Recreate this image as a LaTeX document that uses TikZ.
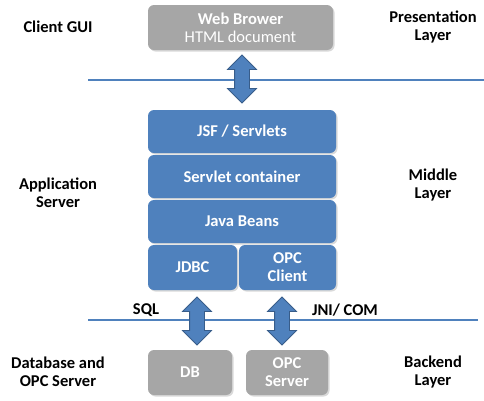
\documentclass[tikz,border=0pt]{standalone}
\usepackage{fontspec}
\setmainfont{Carlito}
\usetikzlibrary{shapes.arrows,shadows}
\definecolor{boxblue}{HTML}{4F81BD}
\definecolor{arrowedge}{HTML}{385D8A}
\definecolor{boxgray}{HTML}{A6A6A6}

\begin{document}
\begin{tikzpicture}
[x=1pt, y=1pt, every node/.style={inner sep=0pt, font=\fontsize{16.5}{18}\selectfont\bfseries},
 graybox/.style={rectangle, rounded corners=6pt, fill=boxgray, text=white, align=center,
   drop shadow={opacity=0.3, shadow xshift=1.5pt, shadow yshift=-1.5pt}},
 bluebox/.style={rectangle, rounded corners=6pt, fill=boxblue, text=white, align=center,
   drop shadow={opacity=0.3, shadow xshift=1.5pt, shadow yshift=-1.5pt}},
 layertext/.style={align=center, text=black},
 updown/.style={double arrow, shape border rotate=90, inner sep=7pt, minimum width=28pt,
   double arrow head indent=0pt, minimum height=48pt, fill=boxblue, draw=arrowedge, line width=0.8pt},
 sepline/.style={draw=boxblue, line width=1.3pt}]
\useasboundingbox (0,0) rectangle (484,-400);
% separator lines
\coordinate (topl) at (88, -80);
\coordinate (topr) at (484, -80);
\coordinate (botl) at (88, -320);
\coordinate (botr) at (478, -320);
\draw [sepline] (topl) -- (topr);
\draw [sepline] (botl) -- (botr);
% boxes
\node (web) [graybox, minimum width=185pt, minimum height=45pt] at (240.5, -27.5) {Web Brower\\{\mdseries HTML document}};
\node (jsf) [bluebox, minimum width=188pt, minimum height=43pt] at (242, -131.5) {JSF / Servlets};
\node (cont) [bluebox, minimum width=188pt, minimum height=43pt] at (242, -176.5) {Servlet container};
\node (beans) [bluebox, minimum width=188pt, minimum height=43pt] at (242, -221.5) {Java Beans};
\node (jdbc) [bluebox, minimum width=89pt, minimum height=45pt] at (192.5, -267.5) {JDBC};
\node (opcc) [bluebox, minimum width=97pt, minimum height=45pt] at (287.5, -267.5) {OPC\\Client};
\node (db) [graybox, minimum width=84pt, minimum height=45pt] at (190, -372.5) {DB};
\node (opcs) [graybox, minimum width=82pt, minimum height=45pt] at (287, -372.5) {OPC\\Server};
% arrows
\node (a1) [updown] at (242, -79) {};
\node (a2) [updown] at (197, -321) {};
\node (a3) [updown] at (282, -321) {};
% labels
\node (gui) [layertext] at (58, -27) {Client GUI};
\node (app) [layertext] at (58, -193) {Application\\Server};
\node (dbs) [layertext] at (58, -372) {Database and\\OPC Server};
\node (pres) [layertext] at (433, -27) {Presentation\\Layer};
\node (mid) [layertext] at (433, -185) {Middle\\Layer};
\node (back) [layertext] at (433, -372) {Backend\\Layer};
\node (sql) [layertext] at (146, -310) {SQL};
\node (jni) [layertext] at (345, -310) {JNI/ COM};
\end{tikzpicture}
\end{document}
